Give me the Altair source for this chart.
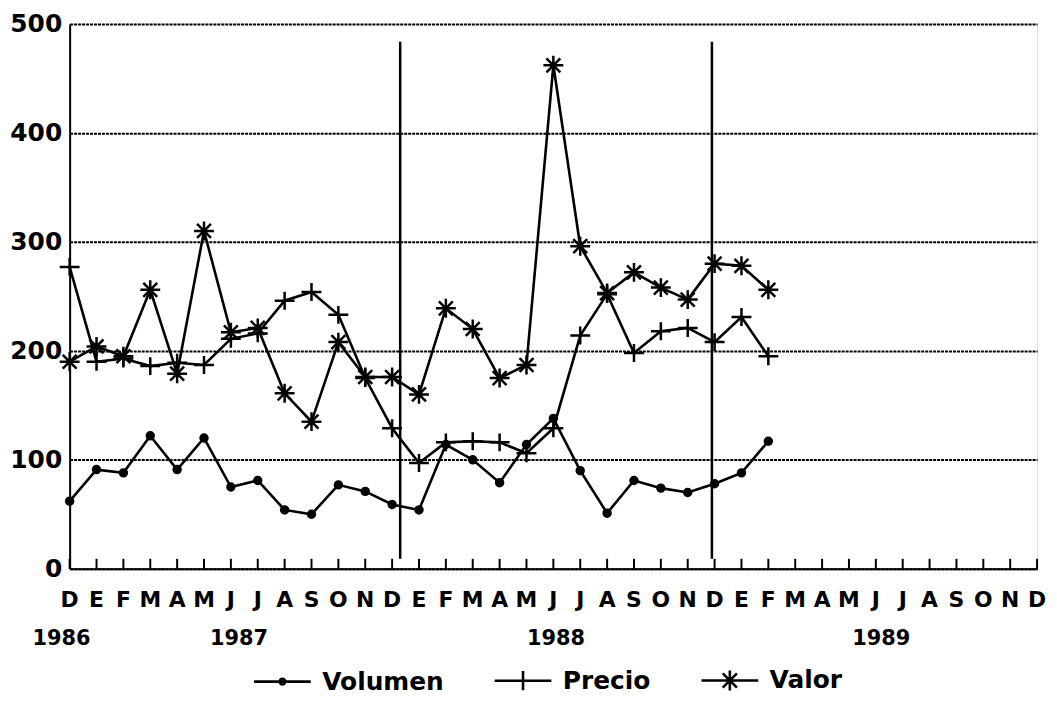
import altair as alt
import pandas as pd

# ---- data ----
etiquetas_meses = ["D", "E", "F", "M", "A", "M", "J", "J", "A", "S", "O", "N",
                   "D", "E", "F", "M", "A", "M", "J", "J", "A", "S", "O", "N",
                   "D", "E", "F", "M", "A", "M", "J", "J", "A", "S", "O", "N", "D"]
anos = ["1986", "1987", "1988", "1989"]
pos_anos = [-0.3, 6.3, 18.1, 30.2]          # month index under which each year label sits
separadores = [12.3, 23.9]                   # vertical year separators (month index)

volumen = [62, 91, 88, 122, 91, 120, 75, 81, 54, 50, 77, 71, 59, 54, 114, 100, 79, 114,
           138, 90, 51, 81, 74, 70, 78, 88, 117]
precio = [277, 190, 193, 186, 189, 187, 211, 216, 246, 254, 233, 175, 129, 97, 116, 117,
          116, 106, 129, 214, 252, 198, 218, 221, 208, 231, 195]
valor = [190, 204, 195, 256, 179, 310, 217, 221, 161, 135, 208, 176, 176, 160, 239, 220,
         175, 187, 462, 296, 253, 272, 258, 247, 280, 278, 256]
series = ["Volumen", "Precio", "Valor"]

rows = []
for nombre, vals in zip(series, [volumen, precio, valor]):
    for i, v in enumerate(vals):
        rows.append({"mes": i, "valor": v, "serie": nombre})
df = pd.DataFrame(rows)
df_meses = pd.DataFrame({"mes": list(range(len(etiquetas_meses))),
                         "etiqueta": etiquetas_meses})
df_anos = pd.DataFrame({"mes": pos_anos, "ano": anos})
df_sep = pd.DataFrame({"mes": separadores})
# legend-only rows (outside the domain and clipped, so only their legend shows)
df_leg = pd.DataFrame({"mes": [-10] * 3, "valor": [-100] * 3, "leyenda": series})

W, H = 973, 548
FONT = "DejaVu Sans"

xscale = alt.Scale(domain=[0, len(etiquetas_meses) - 1], nice=False, zero=False)
yscale = alt.Scale(domain=[0, 500], nice=False)

x_axis = alt.Axis(values=list(range(len(etiquetas_meses))), labels=False,
                  ticks=False, tickSize=0, grid=False, title=None,
                  domainColor="black", domainWidth=2)
y_axis = alt.Axis(values=[0, 100, 200, 300, 400, 500], ticks=False, tickSize=0,
                  title=None, labelFont=FONT, labelFontWeight="bold", labelFontSize=25,
                  labelColor="black", labelPadding=8,
                  grid=True, gridColor="#000000", gridWidth=2, gridDash=[3, 1],
                  domainColor="black", domainWidth=2)

base = alt.Chart(df)

lines = base.mark_line(color="black", strokeWidth=2.6).encode(
    x=alt.X("mes:Q", scale=xscale, axis=x_axis),
    y=alt.Y("valor:Q", scale=yscale, axis=y_axis),
    detail="serie:N",
)

shape_plot = [
    "M-0.35,0A0.35,0.35 0 1 0 0.35,0A0.35,0.35 0 1 0 -0.35,0Z",
    "M-1,0H1M0,-0.9V0.9",
    "M-1,0H1M0,-0.95V0.95M-0.7,-0.7L0.7,0.7M-0.7,0.7L0.7,-0.7",
]
shape_leg = [
    "M-1,0H1M-0.1,0A0.1,0.1 0 1 0 0.1,0A0.1,0.1 0 1 0 -0.1,0Z",
    "M-1,0H1M0,-0.34V0.34",
    "M-1,0H1M0,-0.35V0.35M-0.25,-0.25L0.25,0.25M-0.25,0.25L0.25,-0.25",
]

points = base.mark_point(fill="black", stroke="black", strokeWidth=2.5, size=400,
                         opacity=1).encode(
    x=alt.X("mes:Q", scale=xscale),
    y=alt.Y("valor:Q", scale=yscale),
    shape=alt.Shape("serie:N", scale=alt.Scale(domain=series, range=shape_plot),
                    legend=None),
)

legend = alt.Legend(
    title=None, orient="none", legendX=184, legendY=630, direction="horizontal",
    symbolSize=3249, symbolStrokeWidth=2.6, columnPadding=45, labelOffset=10,
    symbolStrokeColor="black", symbolOpacity=1,
    labelFont=FONT, labelFontWeight="bold", labelFontSize=25, labelColor="black",
)

leg_layer = alt.Chart(df_leg).mark_point(
    filled=False, stroke="black", strokeWidth=2.6, opacity=1, clip=True
).encode(
    x=alt.X("mes:Q", scale=xscale),
    y=alt.Y("valor:Q", scale=yscale),
    shape=alt.Shape("leyenda:N", scale=alt.Scale(domain=series, range=shape_leg),
                    legend=legend, sort=series),
)

ticks = alt.Chart(df_meses).mark_rule(color="black", strokeWidth=2).encode(
    x=alt.X("mes:Q", scale=xscale),
    y=alt.value(H),
    y2=alt.value(H - 10),
)

month_labels = alt.Chart(df_meses).mark_text(
    font=FONT, fontWeight="bold", fontSize=22, color="black",
    baseline="middle", align="center"
).encode(
    x=alt.X("mes:Q", scale=xscale),
    y=alt.value(H + 31),
    text="etiqueta:N",
)

seps = alt.Chart(df_sep).mark_rule(color="black", strokeWidth=2.5).encode(
    x=alt.X("mes:Q", scale=xscale),
    y=alt.value(18),
    y2=alt.value(538),
)

years = alt.Chart(df_anos).mark_text(font=FONT, fontWeight="bold", fontSize=21,
                                     color="black", baseline="middle",
                                     align="center").encode(
    x=alt.X("mes:Q", scale=xscale),
    y=alt.value(H + 71),
    text="ano:N",
)

chart = alt.layer(seps, ticks, lines, points, leg_layer, month_labels, years).resolve_scale(
    shape="independent"
).properties(
    width=W, height=H,
    autosize=alt.AutoSizeParams(type="none"),
    padding={"left": 62, "top": 14, "right": 12, "bottom": 130},
).configure_view(stroke="black", strokeWidth=2).configure(background="white")

chart.save("out.html", embed_options={"renderer": "svg", "actions": False})
